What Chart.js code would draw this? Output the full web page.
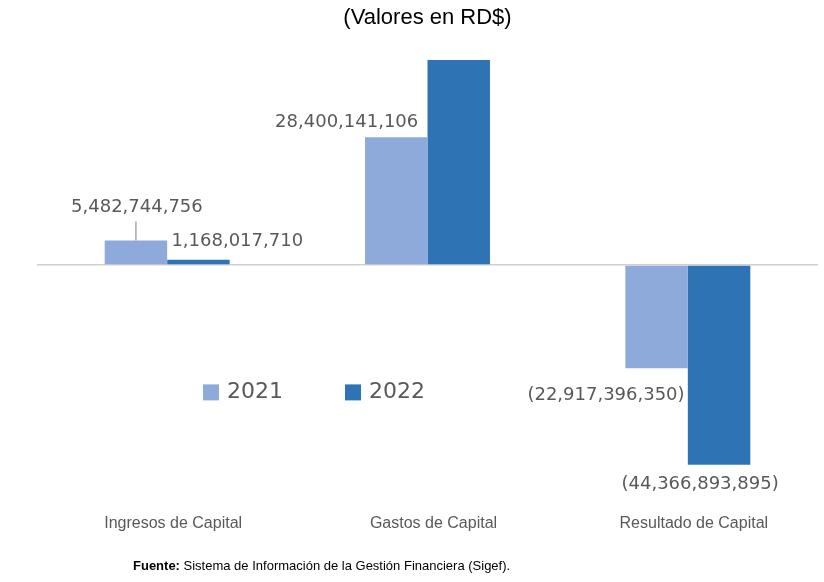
<!DOCTYPE html>
<html>
<head>
<meta charset="utf-8">
<script src="https://cdn.jsdelivr.net/npm/chart.js@4"></script>
<style>
  body{margin:0;background:#fff;}
  #wrap{width:824px;height:582px;}
</style>
</head>
<body>
<div id="wrap"><canvas id="capChart" width="824" height="582"></canvas></div>
<script>
// ---------------- DATA ----------------
const categories = ["Ingresos de Capital", "Gastos de Capital", "Resultado de Capital"];
const years = ["2021", "2022"];
const values2021 = [5482744756, 28400141106, -22917396350];
const values2022 = [1168017710, 45534911605, -44366893895];
const showLabel2022 = [true, false, true];

const titleText = "(Valores en RD$)";
const sourceBold = "Fuente:";
const sourceText = " Sistema de Información de la Gestión Financiera (Sigef).";

// ---------------- STYLE ----------------
const colors = ["#8eaadb", "#2e74b5"];
const textGray = "#595959";
// label placement per dataset / bar (relative to bar centre & bar end)
const labelPos = [
  [{align:"center",dx:1,dy:-33,leader:true},{align:"right",dx:22,dy:-15},{align:"right",dx:28,dy:27}],
  [{align:"left",dx:-27,dy:-18},null,{align:"center",dx:-19,dy:19}]
];

function fmt(v){
  const s = Math.abs(v).toLocaleString("en-US");
  return v < 0 ? "(" + s + ")" : s;
}

// ---------------- PLUGINS ----------------
const barLabels = {
  id:"barLabels",
  afterDatasetsDraw(chart){
    const ctx = chart.ctx;
    ctx.save();
    ctx.font = "18px 'DejaVu Sans'";
    ctx.fillStyle = textGray;
    ctx.textBaseline = "middle";
    chart.data.datasets.forEach((ds, di)=>{
      chart.getDatasetMeta(di).data.forEach((bar, i)=>{
        const p = labelPos[di][i];
        if(!p) return;
        if(di === 1 && !showLabel2022[i]) return;
        const x = bar.x + p.dx;
        const y = bar.y + p.dy;
        ctx.textAlign = p.align;
        ctx.fillText(fmt(ds.data[i]), x, y);
        if(p.leader){
          ctx.strokeStyle = "#a6a6a6";
          ctx.lineWidth = 1.5;
          ctx.beginPath();
          ctx.moveTo(bar.x, y + 14);
          ctx.lineTo(bar.x, bar.y);
          ctx.stroke();
        }
      });
    });
    ctx.restore();
  }
};

// category names under the plot, placed from the x scale
const categoryLabels = {
  id:"categoryLabels",
  afterDraw(chart){
    const ctx = chart.ctx;
    const xs = chart.scales.x;
    ctx.save();
    ctx.font = "16px 'Liberation Sans'";
    ctx.fillStyle = textGray;
    ctx.textAlign = "center";
    ctx.textBaseline = "middle";
    categories.forEach((c, i)=>{
      ctx.fillText(c, xs.getPixelForTick(i) + 6, chart.chartArea.bottom + 59);
    });
    ctx.restore();
  }
};

const innerLegend = {
  id:"innerLegend",
  afterDraw(chart){
    const ctx = chart.ctx;
    const a = chart.chartArea;
    ctx.save();
    ctx.font = "22px 'DejaVu Sans'";
    ctx.textBaseline = "middle";
    ctx.textAlign = "left";
    const y = a.top + 351;
    let x = a.left + 166;
    years.forEach((yr, i)=>{
      ctx.fillStyle = colors[i];
      ctx.fillRect(x, y - 7, 16, 16);
      ctx.fillStyle = textGray;
      ctx.fillText(yr, x + 24, y + 1);
      x += 142;
    });
    ctx.restore();
  }
};

const sourceNote = {
  id:"sourceNote",
  afterDraw(chart){
    const ctx = chart.ctx;
    ctx.save();
    ctx.textBaseline = "middle";
    ctx.textAlign = "left";
    ctx.fillStyle = "#000";
    ctx.font = "bold 13px 'Liberation Sans'";
    const x = 133, y = chart.height - 16;
    ctx.fillText(sourceBold, x, y);
    const w = ctx.measureText(sourceBold).width;
    ctx.font = "13px 'Liberation Sans'";
    ctx.fillText(sourceText, x + w, y);
    ctx.restore();
  }
};

// ---------------- CHART ----------------
new Chart(document.getElementById("capChart"),{
  type:"bar",
  data:{
    labels:categories,
    datasets:[
      {label:years[0], data:values2021, backgroundColor:colors[0]},
      {label:years[1], data:values2022, backgroundColor:colors[1]}
    ]
  },
  options:{
    responsive:false,
    animation:false,
    layout:{padding:{left:37,right:6,top:0,bottom:117}},
    datasets:{bar:{categoryPercentage:0.48,barPercentage:1}},
    plugins:{
      legend:{display:false},
      tooltip:{enabled:false},
      title:{
        display:true,
        text:titleText,
        color:"#000",
        font:{family:"Liberation Sans",size:22,weight:"normal"},
        padding:{top:5,bottom:9}
      }
    },
    scales:{
      x:{
        display:false
      },
      y:{
        min:-44.4e9,
        max:49.9e9,
        afterBuildTicks(scale){ scale.ticks = [{value:0}]; },
        grid:{color:"#d0d0d0",lineWidth:1.5,drawTicks:false},
        border:{display:false},
        ticks:{display:false}
      }
    }
  },
  plugins:[barLabels, categoryLabels, innerLegend, sourceNote]
});
</script>
</body>
</html>
